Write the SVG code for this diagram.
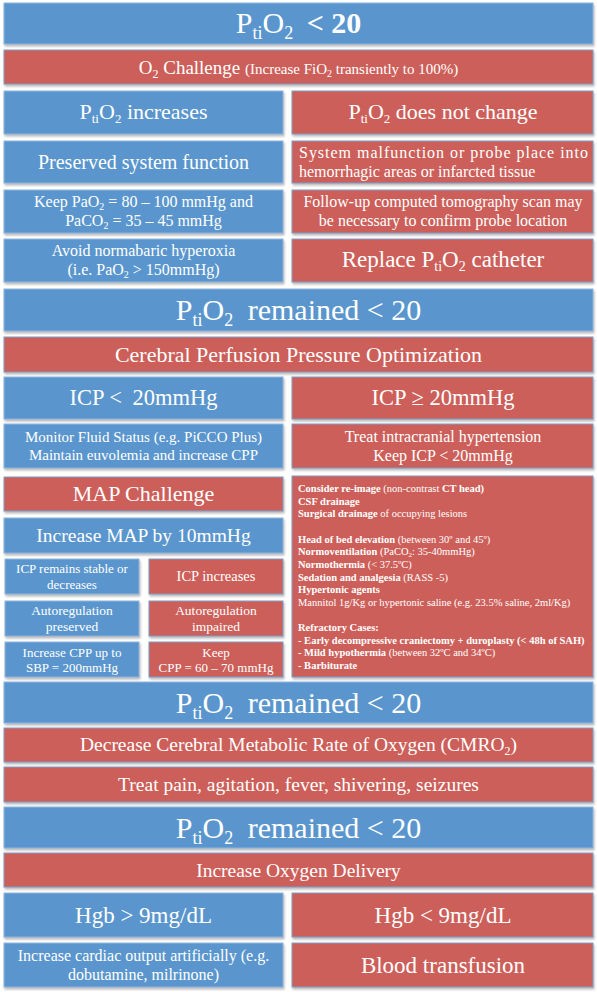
<svg xmlns="http://www.w3.org/2000/svg" width="597" height="992" viewBox="0 0 597 992">
<defs>
<filter id="sh" x="-5%" y="-20%" width="110%" height="150%">
<feDropShadow dx="1" dy="2" stdDeviation="0.8" flood-color="#8a8a8a" flood-opacity="0.6"/>
</filter>
<style>
.b{fill:#5a96cd;stroke:#8fb5de;stroke-width:1;filter:url(#sh)}
.r{fill:#cd5e5a;stroke:#7f9ec8;stroke-width:1;filter:url(#sh)}
text{font-family:"Liberation Serif","Times New Roman",serif;fill:#ffffff}
.m{text-anchor:middle}
.bd{font-weight:bold}
</style>
</defs>
<rect width="597" height="992" fill="#ffffff"/>

<g id="n1"><rect class="b" x="4" y="3" width="589" height="41"/>
<text class="m" x="298.5" y="33" font-size="30">P<tspan font-size="18" dy="6">ti</tspan><tspan dy="-6">O</tspan><tspan font-size="18" dy="6">2</tspan><tspan dy="-6" dx="6"> </tspan><tspan class="bd">&lt; 20</tspan></text></g>

<g id="n2"><rect class="r" x="4" y="50" width="589" height="34"/>
<text class="m" x="298.5" y="74" font-size="19">O<tspan font-size="12" dy="4">2</tspan><tspan dy="-4"> Challenge </tspan><tspan font-size="15">(Increase FiO</tspan><tspan font-size="10" dy="3">2</tspan><tspan font-size="15" dy="-3"> transiently to 100%)</tspan></text></g>

<g id="n3"><rect class="b" x="4" y="91" width="279" height="43"/>
<text class="m" x="143.5" y="119" font-size="22">P<tspan font-size="13" dy="4">ti</tspan><tspan dy="-4">O</tspan><tspan font-size="13" dy="4">2</tspan><tspan dy="-4"> increases</tspan></text></g>
<g id="n4"><rect class="r" x="292" y="91" width="301" height="43"/>
<text class="m" x="443" y="119" font-size="22">P<tspan font-size="13" dy="4">ti</tspan><tspan dy="-4">O</tspan><tspan font-size="13" dy="4">2</tspan><tspan dy="-4"> does not change</tspan></text></g>

<g id="n5"><rect class="b" x="4" y="141" width="279" height="42"/>
<text class="m" x="143.5" y="169" font-size="20">Preserved system function</text></g>
<g id="n6"><rect class="r" x="292" y="141" width="301" height="42"/>
<text x="299" y="158" font-size="16" textLength="289" lengthAdjust="spacing">System malfunction or probe place into</text>
<text x="299" y="177" font-size="16">hemorrhagic areas or infarcted tissue</text></g>

<g id="n7"><rect class="b" x="4" y="190" width="279" height="43"/>
<text class="m" x="143.5" y="207" font-size="16">Keep PaO<tspan font-size="10" dy="3">2</tspan><tspan dy="-3"> = 80 – 100 mmHg and</tspan></text>
<text class="m" x="143.5" y="226" font-size="16">PaCO<tspan font-size="10" dy="3">2</tspan><tspan dy="-3"> = 35 – 45 mmHg</tspan></text></g>
<g id="n8"><rect class="r" x="292" y="190" width="301" height="43"/>
<text class="m" x="443" y="207" font-size="16">Follow-up computed tomography scan may</text>
<text class="m" x="443" y="226" font-size="16">be necessary to confirm probe location</text></g>

<g id="n9"><rect class="b" x="4" y="239" width="279" height="43"/>
<text class="m" x="143.5" y="256" font-size="16">Avoid normabaric hyperoxia</text>
<text class="m" x="143.5" y="275" font-size="16">(i.e. PaO<tspan font-size="10" dy="3">2</tspan><tspan dy="-3"> &gt; 150mmHg)</tspan></text></g>
<g id="n10"><rect class="r" x="292" y="239" width="301" height="43"/>
<text class="m" x="443" y="267" font-size="23">Replace P<tspan font-size="14" dy="4">ti</tspan><tspan dy="-4">O</tspan><tspan font-size="14" dy="4">2</tspan><tspan dy="-4"> catheter</tspan></text></g>

<g id="n11"><rect class="b" x="4" y="289" width="589" height="42"/>
<text class="m" x="298.5" y="320" font-size="30">P<tspan font-size="18" dy="6">ti</tspan><tspan dy="-6">O</tspan><tspan font-size="18" dy="6">2</tspan><tspan dy="-6" dx="7"> remained &lt; 20</tspan></text></g>

<g id="n12"><rect class="r" x="4" y="337" width="589" height="35"/>
<text class="m" x="298.5" y="362" font-size="22">Cerebral Perfusion Pressure Optimization</text></g>

<g id="n13"><rect class="b" x="4" y="377" width="279" height="42"/>
<text class="m" x="143.5" y="405" font-size="22.5">ICP &lt; <tspan dx="5">20mmHg</tspan></text></g>
<g id="n14"><rect class="r" x="292" y="377" width="301" height="42"/>
<text class="m" x="443" y="405" font-size="22.5">ICP ≥ 20mmHg</text></g>

<g id="n15"><rect class="b" x="4" y="424" width="279" height="44"/>
<text class="m" x="143.5" y="442" font-size="15">Monitor Fluid Status (e.g. PiCCO Plus)</text>
<text class="m" x="143.5" y="460" font-size="15">Maintain euvolemia and increase CPP</text></g>
<g id="n16"><rect class="r" x="292" y="424" width="301" height="44"/>
<text class="m" x="443" y="441.5" font-size="16">Treat intracranial hypertension</text>
<text class="m" x="443" y="460.5" font-size="16">Keep ICP &lt; 20mmHg</text></g>

<g id="n17"><rect class="r" x="4" y="477" width="279" height="34"/>
<text class="m" x="143.5" y="501" font-size="22">MAP Challenge</text></g>
<g id="n18"><rect class="b" x="4" y="518" width="279" height="35"/>
<text class="m" x="143.5" y="542" font-size="19.5">Increase MAP by 10mmHg</text></g>

<g id="n19"><rect class="b" x="5" y="559" width="134" height="35"/>
<text class="m" x="72" y="573" font-size="13">ICP remains stable or</text>
<text class="m" x="72" y="588.5" font-size="13">decreases</text></g>
<g id="n20"><rect class="r" x="149" y="559" width="134" height="35"/>
<text class="m" x="216" y="581" font-size="14.5">ICP increases</text></g>

<g id="n21"><rect class="b" x="5" y="601" width="134" height="35"/>
<text class="m" x="72" y="615" font-size="13.5">Autoregulation</text>
<text class="m" x="72" y="631" font-size="13.5">preserved</text></g>
<g id="n22"><rect class="r" x="149" y="601" width="134" height="35"/>
<text class="m" x="216" y="615" font-size="13.5">Autoregulation</text>
<text class="m" x="216" y="631" font-size="13.5">impaired</text></g>

<g id="n23"><rect class="b" x="5" y="642" width="134" height="35"/>
<text class="m" x="72" y="656.5" font-size="13">Increase CPP up to</text>
<text class="m" x="72" y="672" font-size="13">SBP = 200mmHg</text></g>
<g id="n24"><rect class="r" x="149" y="642" width="134" height="35"/>
<text class="m" x="216" y="656.5" font-size="13">Keep</text>
<text class="m" x="216" y="672" font-size="13">CPP = 60 – 70 mmHg</text></g>

<g id="n25"><rect class="r" x="292" y="476" width="301" height="201"/>
<g font-size="10.5">
<text x="298" y="492"><tspan class="bd">Consider re-image</tspan> (non-contrast <tspan class="bd">CT head)</tspan></text>
<text x="298" y="504.6" class="bd">CSF drainage</text>
<text x="298" y="517.3"><tspan class="bd">Surgical drainage</tspan> of occupying lesions</text>
<text x="298" y="542.6"><tspan class="bd">Head of bed elevation</tspan> (between 30º and 45º)</text>
<text x="298" y="555.2"><tspan class="bd">Normoventilation</tspan> (PaCO<tspan font-size="7" dy="2">2</tspan><tspan dy="-2">: 35-40mmHg)</tspan></text>
<text x="298" y="567.9"><tspan class="bd">Normothermia</tspan> (&lt; 37.5ºC)</text>
<text x="298" y="580.5"><tspan class="bd">Sedation and analgesia</tspan> (RASS -5)</text>
<text x="298" y="593.2" class="bd">Hypertonic agents</text>
<text x="298" y="605.8">Mannitol 1g/Kg or hypertonic saline (e.g. 23.5% saline, 2ml/Kg)</text>
<text x="298" y="631.1" class="bd">Refractory Cases:</text>
<text x="298" y="643.8" class="bd">- Early decompressive craniectomy + duroplasty (&lt; 48h of SAH)</text>
<text x="298" y="656.4"><tspan class="bd">- Mild hypothermia</tspan> (between 32ºC and 34ºC)</text>
<text x="298" y="669.1" class="bd">- Barbiturate</text>
</g></g>

<g id="n26"><rect class="b" x="4" y="682" width="589" height="41"/>
<text class="m" x="298.5" y="712.5" font-size="30">P<tspan font-size="18" dy="6">ti</tspan><tspan dy="-6">O</tspan><tspan font-size="18" dy="6">2</tspan><tspan dy="-6" dx="7"> remained &lt; 20</tspan></text></g>

<g id="n27"><rect class="r" x="4" y="728" width="589" height="34"/>
<text class="m" x="298.5" y="751" font-size="19.5">Decrease Cerebral Metabolic Rate of Oxygen (CMRO<tspan font-size="12" dy="4">2</tspan><tspan dy="-4">)</tspan></text></g>

<g id="n28"><rect class="r" x="4" y="767" width="589" height="35"/>
<text class="m" x="298.5" y="791" font-size="19.5">Treat pain, agitation, fever, shivering, seizures</text></g>

<g id="n29"><rect class="b" x="4" y="807" width="589" height="41"/>
<text class="m" x="298.5" y="837.5" font-size="30">P<tspan font-size="18" dy="6">ti</tspan><tspan dy="-6">O</tspan><tspan font-size="18" dy="6">2</tspan><tspan dy="-6" dx="7"> remained &lt; 20</tspan></text></g>

<g id="n30"><rect class="r" x="4" y="853" width="589" height="34"/>
<text class="m" x="298.5" y="876.5" font-size="19.5">Increase Oxygen Delivery</text></g>

<g id="n31"><rect class="b" x="4" y="893" width="279" height="44"/>
<text class="m" x="143.5" y="922.5" font-size="23">Hgb &gt; 9mg/dL</text></g>
<g id="n32"><rect class="r" x="292" y="893" width="301" height="44"/>
<text class="m" x="443" y="922.5" font-size="23">Hgb &lt; 9mg/dL</text></g>

<g id="n33"><rect class="b" x="4" y="943" width="279" height="44"/>
<text class="m" x="143.5" y="961" font-size="16">Increase cardiac output artificially (e.g.</text>
<text class="m" x="143.5" y="980" font-size="16">dobutamine, milrinone)</text></g>
<g id="n34"><rect class="r" x="292" y="943" width="301" height="44"/>
<text class="m" x="443" y="972.5" font-size="23">Blood transfusion</text></g>

<g id="connectors"></g>
</svg>
